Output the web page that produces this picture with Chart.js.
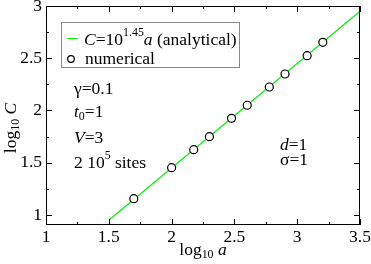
<!DOCTYPE html>
<html><head><meta charset="utf-8">
<script src="https://cdn.jsdelivr.net/npm/chart.js@4/dist/chart.umd.min.js"></script>
<style>html,body{margin:0;padding:0;background:#fff}#wrap{width:371px;height:264px}</style>
</head><body><div id="wrap"><canvas id="c" width="371" height="264"></canvas></div>
<script>
const logA = [1.699, 2.0, 2.176, 2.301, 2.477, 2.602, 2.778, 2.903, 3.079, 3.204];
const logC = [1.156, 1.453, 1.625, 1.749, 1.925, 2.050, 2.225, 2.349, 2.525, 2.652];
const fitX = [1.5, 3.5];
const fitY = [0.95, 2.95];
const xTicks = [1, 1.5, 2, 2.5, 3, 3.5];
const yTicks = [1, 1.5, 2, 2.5, 3];

const FONT = '"Liberation Serif", "Times New Roman", serif';
const FS = 17.5;

function richText(ctx, parts, x, y, size) {
  let cx = x;
  for (const p of parts) {
    const fs = (p.sup || p.sub) ? size * 0.68 : size;
    ctx.font = (p.it ? 'italic ' : '') + fs + 'px ' + FONT;
    let dy = 0;
    if (p.sup) dy = -size * 0.4;
    if (p.sub) dy = size * 0.3;
    ctx.fillText(p.t, cx, y + dy);
    cx += ctx.measureText(p.t).width;
  }
  return cx;
}
function richWidth(ctx, parts, size) {
  let w = 0;
  for (const p of parts) {
    const fs = (p.sup || p.sub) ? size * 0.68 : size;
    ctx.font = (p.it ? 'italic ' : '') + fs + 'px ' + FONT;
    w += ctx.measureText(p.t).width;
  }
  return w;
}

const deco = {
  id: 'deco',
  afterDraw(chart) {
    const {ctx, chartArea: a, scales: {x, y}} = chart;
    ctx.save();
    ctx.strokeStyle = '#000';
    ctx.lineWidth = 1;
    ctx.strokeRect(a.left + 0.5, a.top + 0.5, a.right - a.left - 1, a.bottom - a.top - 1);
    ctx.beginPath();
    for (let v = 1; v <= 3.5001; v += 0.25) {
      const px = Math.round(x.getPixelForValue(v)) + 0.5;
      const L = (Math.abs(v * 2 - Math.round(v * 2)) < 1e-6) ? 6 : 3;
      ctx.moveTo(px, a.bottom); ctx.lineTo(px, a.bottom - L);
      ctx.moveTo(px, a.top); ctx.lineTo(px, a.top + L);
    }
    for (let v = 1; v <= 3.0001; v += 0.25) {
      const py = Math.round(y.getPixelForValue(v)) + 0.5;
      const L = (Math.abs(v * 2 - Math.round(v * 2)) < 1e-6) ? 6 : 3;
      ctx.moveTo(a.left, py); ctx.lineTo(a.left + L, py);
      ctx.moveTo(a.right, py); ctx.lineTo(a.right - L, py);
    }
    ctx.stroke();

    ctx.fillStyle = '#000';
    ctx.textBaseline = 'middle';
    ctx.font = FS + 'px ' + FONT;
    ctx.textAlign = 'center';
    for (const v of xTicks) {
      ctx.fillText(String(v), x.getPixelForValue(v), a.bottom + 12);
    }
    ctx.textAlign = 'right';
    for (const v of yTicks) {
      ctx.fillText(String(v), a.left - 4, y.getPixelForValue(v));
    }
    ctx.textAlign = 'left';
    const xt = [{t: 'log'}, {t: '10', sub: true}, {t: ' '}, {t: 'a', it: true}];
    const xw = richWidth(ctx, xt, FS);
    richText(ctx, xt, (a.left + a.right) / 2 - xw / 2, 250, FS);
    ctx.save();
    ctx.translate(11, 128);
    ctx.rotate(-Math.PI / 2);
    const yt = [{t: 'log'}, {t: '10', sub: true}, {t: ' '}, {t: 'C', it: true}];
    const yw = richWidth(ctx, yt, FS);
    richText(ctx, yt, -yw / 2, 0, FS);
    ctx.restore();

    ctx.strokeStyle = '#888';
    ctx.strokeRect(61.5, 22.5, 178, 45);
    ctx.strokeStyle = '#00ff00';
    ctx.beginPath(); ctx.moveTo(67, 38.5); ctx.lineTo(78, 38.5); ctx.stroke();
    richText(ctx, [{t: 'C', it: true}, {t: '=10'}, {t: '1.45', sup: true}, {t: 'a', it: true}, {t: ' (analytical)'}], 84, 40, FS);
    ctx.strokeStyle = '#000';
    ctx.lineWidth = 1.2;
    ctx.beginPath(); ctx.arc(71, 59, 3.3, 0, Math.PI * 2); ctx.stroke();
    richText(ctx, [{t: 'numerical'}], 85, 59, FS);

    richText(ctx, [{t: 'γ=0.1'}], 74, 89, FS);
    richText(ctx, [{t: 't', it: true}, {t: '0', sub: true}, {t: '=1'}], 74, 112, FS);
    richText(ctx, [{t: 'V', it: true}, {t: '=3'}], 74, 138, FS);
    richText(ctx, [{t: '2 10'}, {t: '5', sup: true}, {t: ' sites'}], 74, 163, FS);
    richText(ctx, [{t: 'd', it: true}, {t: '=1'}], 280, 145, FS);
    richText(ctx, [{t: 'σ=1'}], 280, 160, FS);
    ctx.restore();
  }
};

new Chart(document.getElementById('c'), {
  type: 'scatter',
  data: {
    datasets: [
      {
        type: 'line',
        data: fitX.map((v, i) => ({x: v, y: fitY[i]})),
        borderColor: '#00ee00',
        borderWidth: 1.2,
        pointRadius: 0,
        fill: false,
        order: 2
      },
      {
        data: logA.map((v, i) => ({x: v, y: logC[i]})),
        pointRadius: 4,
        pointBorderWidth: 1.2,
        pointBorderColor: '#000',
        pointBackgroundColor: '#fff',
        order: 1
      }
    ]
  },
  options: {
    responsive: false,
    animation: false,
    layout: {padding: {left: 46, right: 11, top: 6, bottom: 39}},
    plugins: {legend: {display: false}, tooltip: {enabled: false}},
    scales: {
      x: {type: 'linear', min: 1, max: 3.5, display: false},
      y: {type: 'linear', min: 0.904, max: 3, display: false}
    }
  },
  plugins: [deco]
});
</script>
</body></html>
